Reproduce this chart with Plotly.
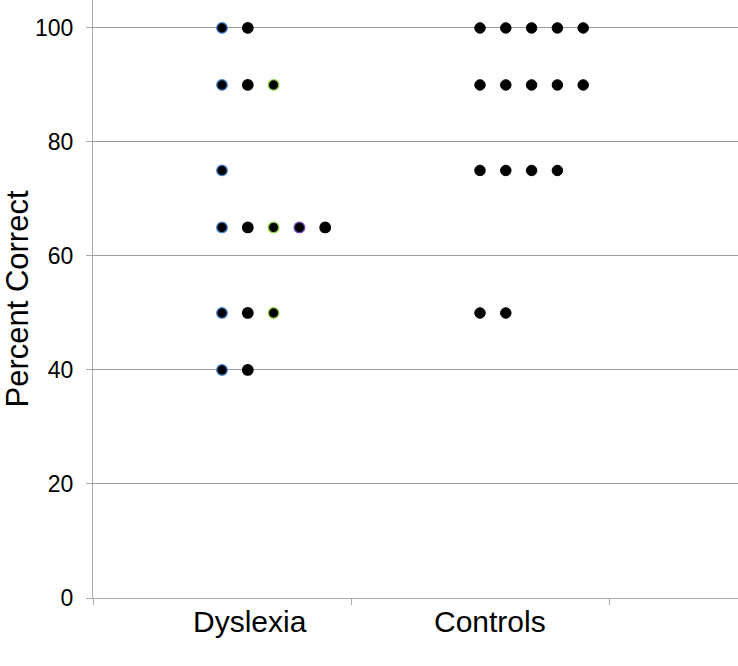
import plotly.graph_objects as go

# Dyslexia columns (x offset within the group) and their values
dys_col1 = [100, 90, 75, 65, 50, 40]   # blue outline
dys_col2 = [100, 90, 65, 50, 40]       # black
dys_col3 = [90, 65, 50]                # green outline
dys_col4 = [65]                        # purple outline
dys_col5 = [65]                        # black

# Controls columns
ctl_col1 = [100, 90, 75, 50]
ctl_col2 = [100, 90, 75, 50]
ctl_col3 = [100, 90, 75]
ctl_col4 = [100, 90, 75]
ctl_col5 = [100, 90]

categories = ["Dyslexia", "Controls"]
y_ticks = [0, 20, 40, 60, 80, 100]

dys_cols = [dys_col1, dys_col2, dys_col3, dys_col4, dys_col5]
ctl_cols = [ctl_col1, ctl_col2, ctl_col3, ctl_col4, ctl_col5]
dys_x = [0.5, 0.6, 0.7, 0.8, 0.9]
ctl_x = [1.5, 1.6, 1.7, 1.8, 1.9]
dys_outline = ["#3d7fd0", "black", "#8fd13a", "#6a3fc0", "black"]

fig = go.Figure()
for xv, vals, oc in zip(dys_x, dys_cols, dys_outline):
    fig.add_trace(go.Scatter(
        x=[xv] * len(vals), y=vals, mode="markers",
        marker=dict(size=10.5, color="black", line=dict(color=oc, width=1.3)),
        showlegend=False))
for xv, vals in zip(ctl_x, ctl_cols):
    fig.add_trace(go.Scatter(
        x=[xv] * len(vals), y=vals, mode="markers",
        marker=dict(size=10.5, color="black", line=dict(color="black", width=1)),
        showlegend=False))

fig.update_layout(
    width=738, height=666,
    margin=dict(l=93, r=0, t=0, b=68),
    plot_bgcolor="white", paper_bgcolor="white",
    font=dict(family="Liberation Sans, Arial, sans-serif", color="black"),
    xaxis=dict(range=[0, 2.5], tickvals=[0, 1, 2], showticklabels=False,
               ticks="outside", ticklen=6, tickcolor="#aaaaaa",
               showgrid=False, zeroline=False, showline=True,
               linecolor="#aaaaaa", linewidth=1),
    yaxis=dict(range=[0, 104.9], tickvals=y_ticks, ticks="outside",
               ticklen=6, tickcolor="#aaaaaa", showgrid=True,
               gridcolor="#9a9a9a", gridwidth=1, zeroline=False,
               showline=True, linecolor="#aaaaaa", linewidth=1,
               tickfont=dict(size=23), ticklabelstandoff=8,
               title=dict(text="Percent Correct", font=dict(size=31), standoff=12)),
)

for cx, name in zip([0.61, 1.54], categories):
    fig.add_annotation(x=cx, y=0, xref="x", yref="paper", text=name,
                       showarrow=False, yshift=-23, yanchor="middle",
                       font=dict(size=30))

fig.write_html("out.html", config={"displayModeBar": False},
               post_script="document.body.style.margin='0';")
